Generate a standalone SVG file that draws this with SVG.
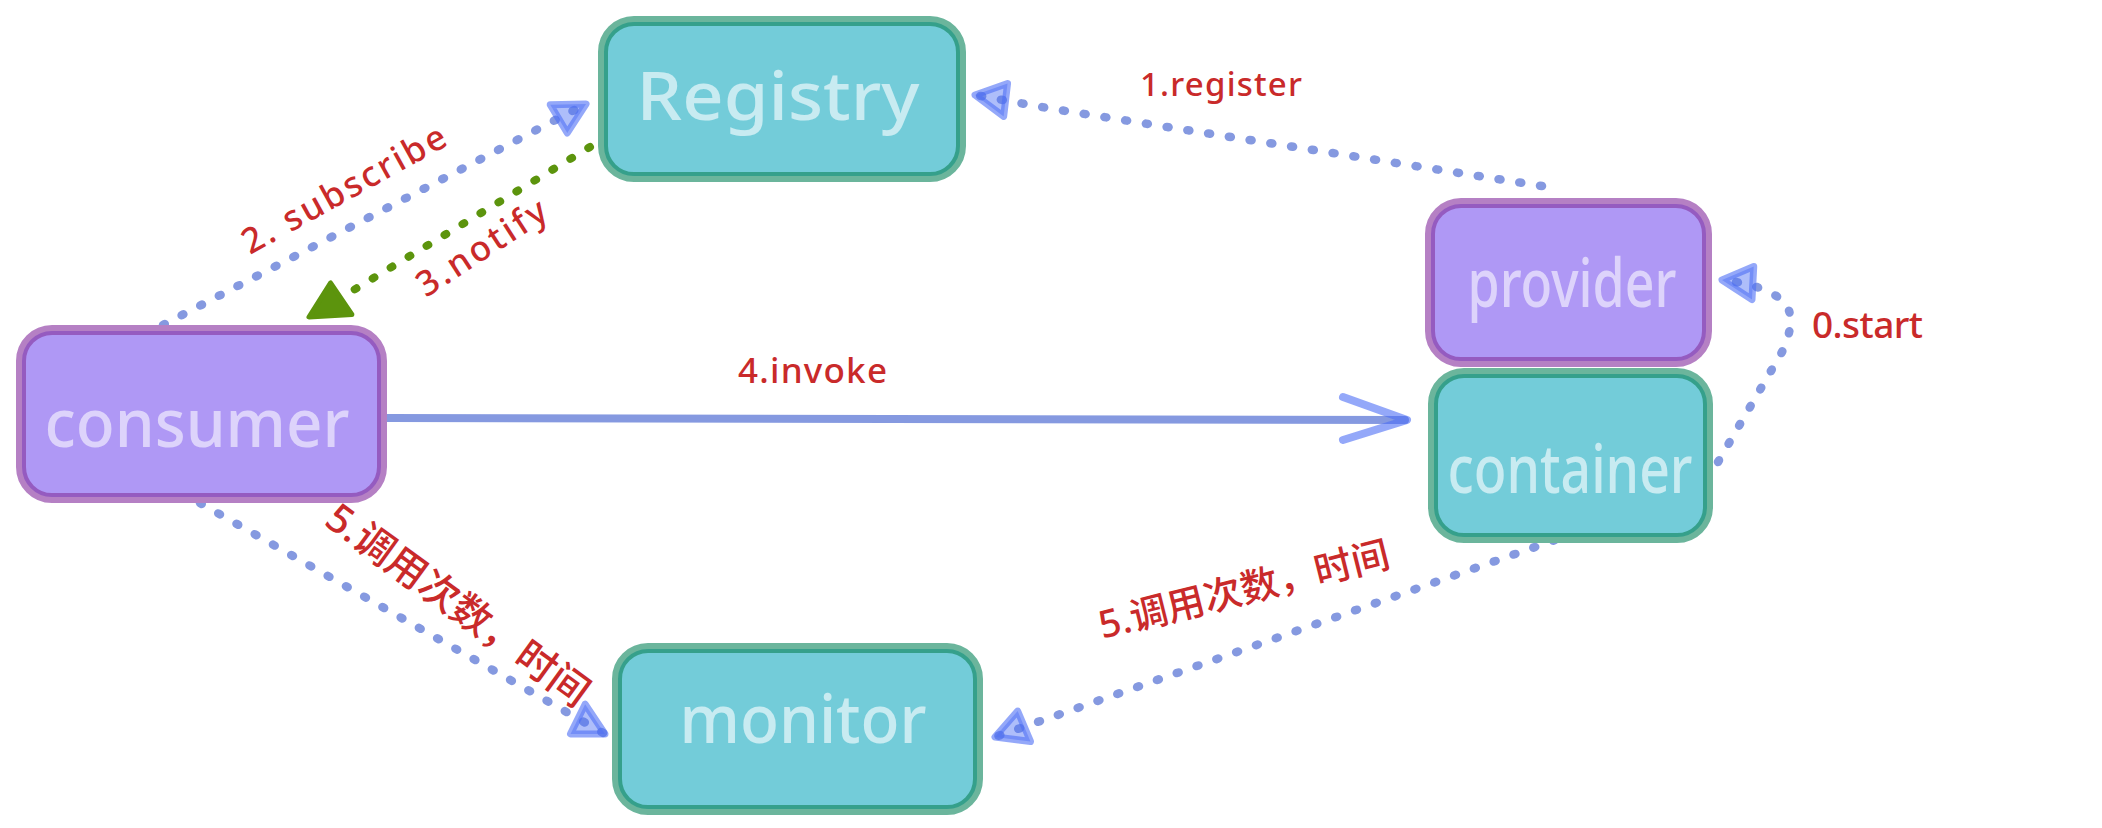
<svg xmlns="http://www.w3.org/2000/svg" width="2102" height="828" viewBox="0 0 2102 828">
<style>
.bg{fill:#ffffff}
.tealFill{fill:#73ccd9}
.tealOuter{fill:none;stroke:#6bb59c;stroke-width:8}
.tealInner{fill:none;stroke:#35a08b;stroke-width:4}
.purFill{fill:#af98f5}
.purOuter{fill:none;stroke:#b580c4;stroke-width:8}
.purInner{fill:none;stroke:#955bc0;stroke-width:4}
.nodeText{font-family:"Noto Sans","Liberation Sans",sans-serif;font-size:68px;font-weight:500;text-anchor:middle}
.tealText{fill:#c8ebf1}
.purText{fill:#ddd3fb}
.dots{fill:none;stroke:#8599e0;stroke-width:8.5;stroke-linecap:round;stroke-dasharray:2 19}
.gdots{fill:none;stroke:#5c940d;stroke-width:8;stroke-linecap:round;stroke-dasharray:2 19}
.solid{fill:none;stroke:#8599e0;stroke-width:8;stroke-linecap:round}
.chev{fill:none;stroke:#4c6ef5;stroke-opacity:0.6;stroke-width:8;stroke-linecap:round;stroke-linejoin:round}
.lbl{font-family:"Noto Sans","Liberation Sans","Noto Sans CJK SC",sans-serif;font-weight:500;fill:#c92a2a}
</style>
<defs>
<marker id="tri" markerUnits="userSpaceOnUse" markerWidth="60" markerHeight="60" viewBox="-45 -30 60 60" refX="0" refY="0" orient="auto">
<path d="M0,0 L-32,-16 L-30,17 Z" fill="#4c6ef5" fill-opacity="0.45" stroke="#4c6ef5" stroke-opacity="0.6" stroke-width="7" stroke-linejoin="round"/>
</marker>
<marker id="gtri" markerUnits="userSpaceOnUse" markerWidth="60" markerHeight="60" viewBox="-45 -30 60 60" refX="0" refY="0" orient="auto">
<path d="M0,0 L-38,-20 L-36,18 Z" fill="#5c940d" stroke="#5c940d" stroke-width="5" stroke-linejoin="round"/>
</marker>
</defs>
<rect class="bg" x="0" y="0" width="2102" height="828"/>

<g id="connectors">
  <path id="e-register" class="dots" d="M1542,186 L1053,109 L975,95" marker-end="url(#tri)"/>
  <path id="e-subscribe" class="dots" d="M163,325 L586,104" marker-end="url(#tri)"/>
  <path id="e-notify" class="gdots" d="M590,147 L309,317" marker-end="url(#gtri)"/>
  <path id="e-invoke" class="solid" d="M387,418 L1405,420"/>
  <path class="chev" d="M1343,397 L1407,420 L1343,440"/>
  <path id="e-start" class="dots" d="M1718,462 L1782,352 Q1798,318 1784,302 Q1766,285 1722,280" marker-end="url(#tri)"/>
  <path id="e-mon1" class="dots" d="M200,503 L605,734" marker-end="url(#tri)"/>
  <path id="e-mon2" class="dots" d="M1555,540 L995,737" marker-end="url(#tri)"/>
</g>

<g id="labels">
  <text class="lbl" x="1140" y="96" font-size="33" textLength="162" lengthAdjust="spacing">1.register</text>
  <text class="lbl" font-size="35" transform="translate(250,255) rotate(-29)" textLength="228" lengthAdjust="spacing">2. subscribe</text>
  <text class="lbl" font-size="35" transform="translate(426,298) rotate(-33)" textLength="148" lengthAdjust="spacing">3.notify</text>
  <text class="lbl" x="738" y="383" font-size="35" textLength="149" lengthAdjust="spacing">4.invoke</text>
  <text class="lbl" x="1812" y="338" font-size="37" textLength="111" lengthAdjust="spacing">0.start</text>
  <text class="lbl" font-size="40" text-anchor="middle" transform="translate(458,605) rotate(36)" x="0" y="14">5.调用次数，时间</text>
  <text class="lbl" font-size="38" text-anchor="middle" transform="translate(1244,590) rotate(-14)" x="0" y="13">5.调用次数，时间</text>
</g>

<g id="registry">
  <rect class="tealFill" x="604" y="22" width="356" height="154" rx="28"/>
  <rect class="tealOuter" x="602" y="20" width="360" height="158" rx="32"/>
  <rect class="tealInner" x="606" y="24" width="352" height="150" rx="28"/>
  <text class="nodeText tealText" x="778" y="120" textLength="283" lengthAdjust="spacingAndGlyphs">Registry</text>
</g>

<g id="consumer">
  <rect class="purFill" x="22" y="331" width="359" height="166" rx="28"/>
  <rect class="purOuter" x="20" y="329" width="363" height="170" rx="32"/>
  <rect class="purInner" x="24" y="333" width="355" height="162" rx="28"/>
  <text class="nodeText purText" x="197" y="447" textLength="305" lengthAdjust="spacingAndGlyphs">consumer</text>
</g>

<g id="provider">
  <rect class="purFill" x="1431" y="204" width="275" height="157" rx="28"/>
  <rect class="purOuter" x="1429" y="202" width="279" height="161" rx="32"/>
  <rect class="purInner" x="1433" y="206" width="271" height="153" rx="28"/>
  <text class="nodeText purText" x="1572" y="307" textLength="209" lengthAdjust="spacingAndGlyphs">provider</text>
</g>

<g id="container">
  <rect class="tealFill" x="1434" y="374" width="273" height="163" rx="28"/>
  <rect class="tealOuter" x="1432" y="372" width="277" height="167" rx="32"/>
  <rect class="tealInner" x="1436" y="376" width="269" height="159" rx="28"/>
  <text class="nodeText tealText" x="1570" y="493" textLength="245" lengthAdjust="spacingAndGlyphs">container</text>
</g>

<g id="monitor">
  <rect class="tealFill" x="618" y="649" width="359" height="160" rx="28"/>
  <rect class="tealOuter" x="616" y="647" width="363" height="164" rx="32"/>
  <rect class="tealInner" x="620" y="651" width="355" height="156" rx="28"/>
  <text class="nodeText tealText" x="803" y="743" textLength="247" lengthAdjust="spacingAndGlyphs">monitor</text>
</g>
</svg>
